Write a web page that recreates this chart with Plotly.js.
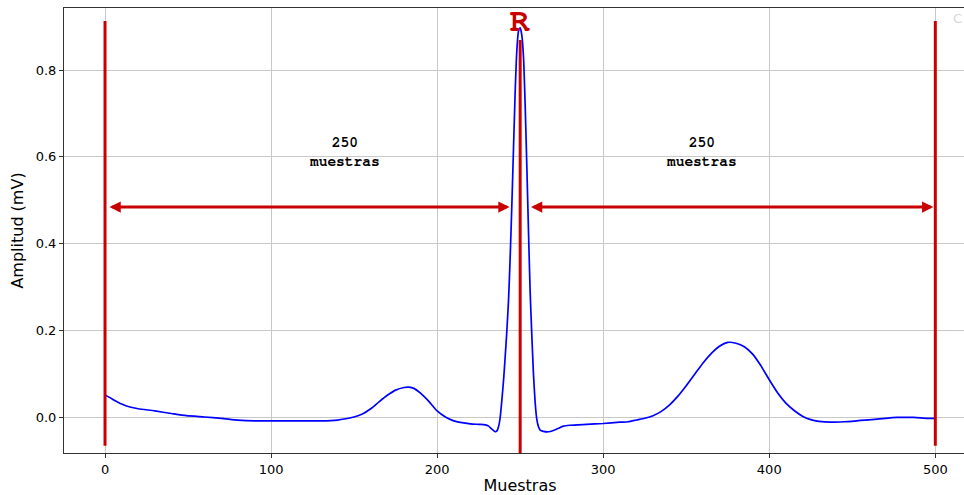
<!DOCTYPE html>
<html>
<head>
<meta charset="utf-8">
<script src="https://cdn.plot.ly/plotly-3.0.1.min.js"></script>
<style>
html,body{margin:0;padding:0;overflow:hidden;background:#fff;}
#chart{width:977px;height:495px;}
</style>
</head>
<body>
<div id="chart"></div>
<script>
// ECG beat samples
const muestras = [0,5,10,15,20,30,40,49,60,70,80,90,100,110,120,130,140,145,150,155,160,165,170,175,180,183,186,190,195,200,205,210,215,220,225,229,231,233,235,236,237,238,239,240,241,242,243,244,245,246,247,248,249,250,251,252,253,254,255,256,257,258,259,260,261,262,264,267,270,273,276,280,290,300,310,315,320,325,330,335,340,345,350,355,360,365,370,375,380,385,390,395,400,405,410,415,420,425,430,437,445,455,465,477,487,495,500];
const amplitud = [0.051,0.040,0.030,0.023,0.019,0.014,0.008,0.003,0.000,-0.003,-0.007,-0.009,-0.009,-0.009,-0.009,-0.009,-0.007,-0.004,0.000,0.007,0.019,0.035,0.050,0.062,0.068,0.069,0.066,0.055,0.036,0.014,0.000,-0.009,-0.013,-0.016,-0.017,-0.018,-0.021,-0.028,-0.034,-0.032,-0.022,0.000,0.040,0.085,0.140,0.200,0.270,0.370,0.490,0.620,0.750,0.845,0.890,0.897,0.880,0.830,0.720,0.580,0.430,0.290,0.190,0.100,0.035,-0.005,-0.022,-0.030,-0.033,-0.034,-0.031,-0.026,-0.021,-0.019,-0.017,-0.015,-0.012,-0.011,-0.007,-0.003,0.003,0.013,0.028,0.048,0.072,0.098,0.124,0.146,0.163,0.172,0.170,0.162,0.145,0.118,0.086,0.056,0.032,0.015,0.002,-0.006,-0.010,-0.012,-0.011,-0.008,-0.005,-0.001,-0.001,-0.003,-0.003];

// markers: window limits and R peak
const limites = [0, 250, 500];
const limiteInf = [-0.066, -0.111, -0.066];
const limiteSup = [0.913, 0.869, 0.913];
const flechaY = 0.484;
const flechas = [[1.8, 243.6], [255.6, 498.8]];
const textoX = [144.3, 359.4];
const textoY = 0.611;
const etiquetaTexto = "250<br>muestras";
const picoR = {x: 250, y: 0.913, text: "R"};
const marcaEsquina = "C";

const xTicks = [0,100,200,300,400,500];
const yTicks = [0.0,0.2,0.4,0.6,0.8];

const rojo = '#c80000';
const mono = 'Nimbus Mono PS, Nimbus Mono L, FreeMono, Courier, Liberation Mono, monospace';

const shapes = limites.map((x,i)=>({
  type:'line', xref:'x', yref:'y', x0:x, x1:x, y0:limiteInf[i], y1:limiteSup[i],
  line:{color:rojo, width:3}, layer:'above'
}));

const annotations = [];
flechas.forEach(f=>{
  annotations.push({
    x:f[1], y:flechaY, ax:f[0], ay:flechaY, xref:'x', yref:'y', axref:'x', ayref:'y',
    text:'', showarrow:true, arrowside:'end+start', arrowhead:2, startarrowhead:2,
    arrowsize:0.75, startarrowsize:0.75, arrowwidth:3, arrowcolor:rojo, standoff:0, startstandoff:0
  });
});
textoX.forEach(x=>{
  annotations.push({
    x:x, y:textoY, xref:'x', yref:'y', text:etiquetaTexto, showarrow:false,
    font:{family:mono, size:14.5, color:'#000', weight:'bold'},
    xanchor:'center', yanchor:'middle', align:'center'
  });
});
annotations.push({
  x:picoR.x, y:picoR.y, xref:'x', yref:'y', text:picoR.text, showarrow:false,
  font:{family:mono, size:33, color:rojo, weight:'bold'},
  xanchor:'center', yanchor:'middle'
});
annotations.push({
  x:950/977, y:1 - 10/445, xref:'paper', yref:'paper', text:marcaEsquina, showarrow:false,
  font:{family:'DejaVu Sans, sans-serif', size:13, color:'#d6d6d6'},
  xanchor:'left', yanchor:'middle'
});

const trace = {
  x: muestras, y: amplitud, type:'scatter', mode:'lines',
  line:{color:'#0000ff', width:1.7, shape:'spline', smoothing:0.6},
  hoverinfo:'skip'
};

const font = {family:'DejaVu Sans, sans-serif', color:'#000'};

const layout = {
  width:977, height:495,
  margin:{l:64, r:1, t:8, b:42},
  paper_bgcolor:'#fff', plot_bgcolor:'#fff',
  showlegend:false,
  font:font,
  xaxis:{
    range:[-24.7, 524.5], tickvals:xTicks, ticktext:xTicks.map(String),
    showgrid:true, gridcolor:'#c8c8c8', gridwidth:1, zeroline:false,
    showline:true, linecolor:'#333', linewidth:1, mirror:true,
    ticks:'outside', ticklen:4, tickcolor:'#333', tickfont:{size:13, family:font.family, color:'#000'},
    title:{text:'Muestras', font:{size:16, family:font.family, color:'#000'}, standoff:6},
    automargin:false
  },
  yaxis:{
    range:[-0.083, 0.943], tickvals:yTicks, ticktext:yTicks.map(v=>v.toFixed(1)),
    showgrid:true, gridcolor:'#c8c8c8', gridwidth:1, zeroline:false,
    showline:true, linecolor:'#333', linewidth:1, mirror:false,
    ticks:'outside', ticklen:4, tickcolor:'#333', tickfont:{size:13, family:font.family, color:'#000'},
    title:{text:'Amplitud (mV)', font:{size:16, family:font.family, color:'#000'}, standoff:8},
    automargin:false
  },
  shapes:shapes,
  annotations:annotations
};

Plotly.newPlot('chart', [trace], layout, {displayModeBar:false, staticPlot:true});
</script>
</body>
</html>
